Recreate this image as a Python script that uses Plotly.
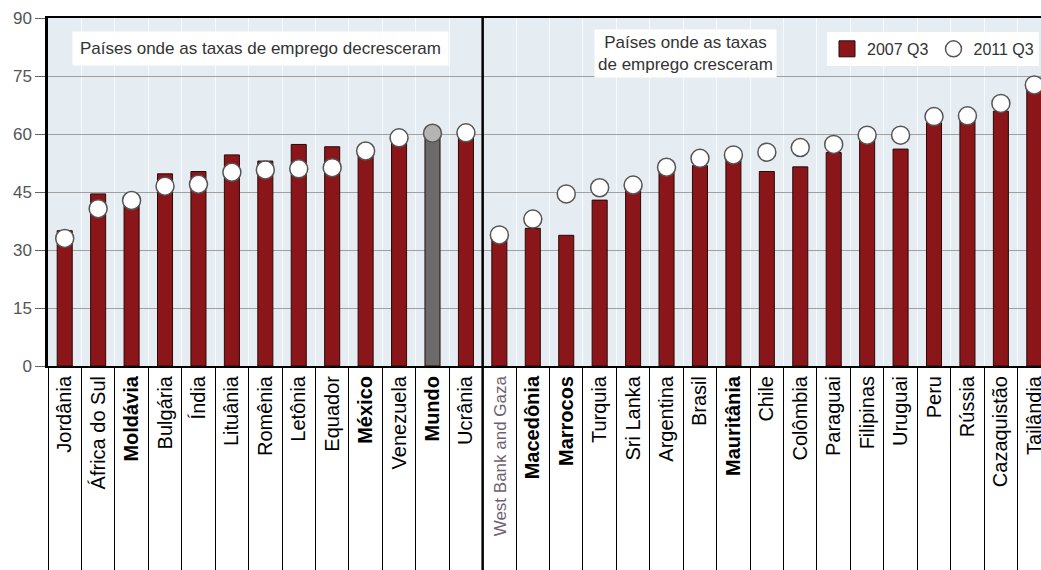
import plotly.graph_objects as go

categories = ["Jordânia", "África do Sul", "Moldávia", "Bulgária", "Índia", "Lituânia",
              "Romênia", "Letônia", "Equador", "México", "Venezuela", "Mundo", "Ucrânia",
              "West Bank and Gaza", "Macedônia", "Marrocos", "Turquia", "Sri Lanka",
              "Argentina", "Brasil", "Mauritânia", "Chile", "Colômbia", "Paraguai",
              "Filipinas", "Uruguai", "Peru", "Rússia", "Cazaquistão", "Tailândia"]
rate_2007q3 = [35.0, 44.5, 43.9, 49.7, 50.3, 54.6, 53.0, 57.3, 56.7, 55.0, 58.6, 60.9, 60.0,
               32.8, 35.6, 33.8, 42.9, 45.8, 50.8, 51.8, 54.2, 50.3, 51.5, 55.2, 58.5, 56.1,
               62.9, 63.8, 65.9, 71.8]
rate_2011q3 = [33.0, 40.7, 42.8, 46.5, 47.0, 50.1, 50.7, 51.0, 51.3, 55.6, 59.0, 60.2, 60.3,
               33.9, 38.0, 44.5, 46.1, 46.8, 51.4, 53.7, 54.6, 55.3, 56.5, 57.3, 59.7, 59.7,
               64.5, 64.7, 67.9, 72.7]
y_ticks = [0, 15, 30, 45, 60, 75, 90]
bold_labels = {"Moldávia", "México", "Mundo", "Macedônia", "Marrocos", "Mauritânia"}
highlight = "Mundo"
split_after = "Ucrânia"

RED = "#8a1619"
FONT = "Arial, Liberation Sans, sans-serif"
bar_colors = ["#6b6b6b" if c == highlight else RED for c in categories]
dot_colors = ["#b4b4b4" if c == highlight else "white" for c in categories]

def fmt(c):
    if c == "West Bank and Gaza":
        return "<span style='color:#6e5f70;font-size:17px'>" + c + "</span>"
    if c in bold_labels:
        return "<b>" + c + "</b>"
    return c

ticktext = [fmt(c) for c in categories]

fig = go.Figure()
fig.add_trace(go.Bar(
    x=categories, y=rate_2007q3, name="2007 Q3", width=0.45, showlegend=False,
    marker=dict(color=bar_colors, line=dict(color="#2a0808", width=1)),
))
# legend-only key for the bars (larger square, as in the original key)
fig.add_trace(go.Scatter(
    x=[None], y=[None], name="2007 Q3", mode="markers",
    marker=dict(symbol="square", size=20, color=RED, line=dict(color="#2a0808", width=1)),
))
fig.add_trace(go.Scatter(
    x=categories, y=rate_2011q3, name="2011 Q3", mode="markers",
    marker=dict(symbol="circle", size=18, color=dot_colors,
                line=dict(color="#555555", width=1.5)),
))

split_x = categories.index(split_after) + 0.5
fig.add_shape(type="line", xref="x", yref="paper", x0=split_x, x1=split_x,
              y0=1, y1=-0.6, line=dict(color="black", width=2.5), layer="above")

fig.add_annotation(xref="paper", yref="paper", x=0.2145, y=0.911,
                   xanchor="center", yanchor="middle",
                   text="Países onde as taxas de emprego decresceram",
                   showarrow=False, bgcolor="white", borderpad=7,
                   font=dict(family=FONT, size=17, color="#333333"))
fig.add_annotation(xref="paper", yref="paper", x=0.6415, y=0.8966,
                   xanchor="center", yanchor="middle",
                   text="Países onde as taxas<br>de emprego cresceram",
                   showarrow=False, bgcolor="white", borderpad=3,
                   font=dict(family=FONT, size=17, color="#333333"))

fig.update_layout(
    width=1041, height=570,
    margin=dict(l=48, r=0, t=18, b=204),
    paper_bgcolor="white", plot_bgcolor="#e6edf2",
    showlegend=True,
    font=dict(family=FONT, color="#333333"),
    legend=dict(orientation="h", x=0.7845, y=0.96, xanchor="left", yanchor="top",
                bgcolor="white", font=dict(family=FONT, size=16, color="#333333"),
                itemsizing="trace", itemwidth=30, tracegroupgap=0),
    xaxis=dict(
        type="category", range=[-0.5, 29.2],
        tickmode="array", tickvals=categories, ticktext=ticktext,
        tickangle=-90, tickson="boundaries", ticks="outside", ticklen=204,
        tickcolor="black", tickwidth=1, ticklabelstandoff=0,
        tickfont=dict(family=FONT, size=20, color="black"),
        showgrid=True, gridcolor="#f7fafc", gridwidth=1,
        showline=True, linecolor="black", linewidth=2, mirror=True,
        automargin=False, fixedrange=True,
    ),
    yaxis=dict(
        range=[0, 90], tickmode="array", tickvals=y_ticks,
        ticks="outside", ticklen=10, tickcolor="#666666",
        tickfont=dict(family=FONT, size=17, color="#555555"),
        showgrid=True, gridcolor="#a0a0a0", gridwidth=1,
        showline=True, linecolor="black", linewidth=2.5,
        zeroline=False, automargin=False,
    ),
)

fig.write_html(
    "out.html",
    config={"displayModeBar": False},
    post_script="document.body.style.margin='0';document.body.style.overflow='hidden';",
)
